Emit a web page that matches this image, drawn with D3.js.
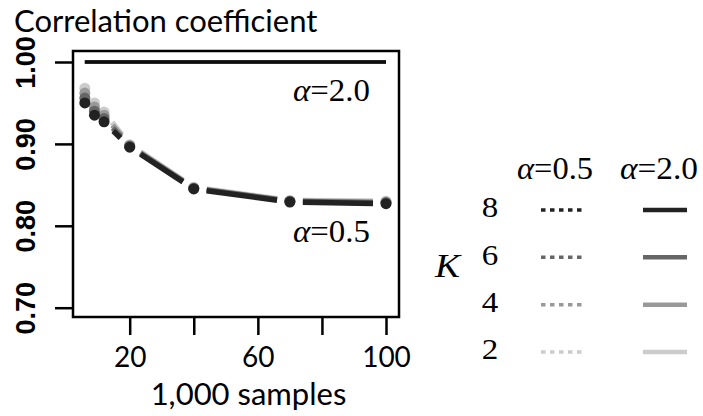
<!DOCTYPE html>
<html>
<head>
<meta charset="utf-8">
<script src="https://cdn.jsdelivr.net/npm/d3@7"></script>
<style>
  body { margin: 0; background: #fff; }
  svg { display: block; }
</style>
</head>
<body>
<svg id="chart" width="703" height="416"></svg>
<script>
// data
const samples = [6, 9, 12, 20, 40, 70, 100];
const kLevels = [2, 4, 6, 8];
const kColors = ["#cccccc", "#999999", "#666666", "#222222"];

const corrA05K2 = [0.968, 0.950, 0.939, 0.899, 0.847, 0.831, 0.830];
const corrA05K4 = [0.962, 0.945, 0.935, 0.898, 0.846, 0.830, 0.829];
const corrA05K6 = [0.956, 0.940, 0.931, 0.897, 0.846, 0.830, 0.828];
const corrA05K8 = [0.950, 0.935, 0.927, 0.896, 0.845, 0.829, 0.827];

const corrA20K2 = [1.000, 1.000, 1.000, 1.000, 1.000, 1.000, 1.000];
const corrA20K4 = [1.000, 1.000, 1.000, 1.000, 1.000, 1.000, 1.000];
const corrA20K6 = [1.000, 1.000, 1.000, 1.000, 1.000, 1.000, 1.000];
const corrA20K8 = [1.000, 1.000, 1.000, 1.000, 1.000, 1.000, 1.000];

const yTicks = [0.70, 0.80, 0.90, 1.00];
const yTickLabels = ["0.70", "0.80", "0.90", "1.00"];
const xTicks = [20, 40, 60, 80, 100];
const xTickLabels = ["20", "", "60", "", "100"];

const a05 = [corrA05K2, corrA05K4, corrA05K6, corrA05K8];
const a20 = [corrA20K2, corrA20K4, corrA20K6, corrA20K8];

const svg = d3.select("#chart");

// plot box
const box = { left: 73, right: 399, top: 51, bottom: 317 };

const x = d3.scaleLinear().domain([20, 100]).range([129.7, 386]);
const y = d3.scaleLinear().domain([0.70, 1.00]).range([307.7, 62]);

const defs = svg.append("defs");
defs.append("filter").attr("id", "soft")
  .append("feGaussianBlur").attr("stdDeviation", 0.7);

const sans = "Lato, 'Open Sans', sans-serif";
const serif = "'Liberation Serif', 'Times New Roman', serif";

// title
svg.append("text")
  .attr("x", 14).attr("y", 32)
  .style("font-family", sans)
  .style("font-size", "31px")
  .text("Correlation coefficient");

// box
svg.append("rect")
  .attr("x", box.left).attr("y", box.top)
  .attr("width", box.right - box.left).attr("height", box.bottom - box.top)
  .attr("fill", "none").attr("stroke", "#000").attr("stroke-width", 2.5);

// y axis
const yAxis = svg.append("g")
  .attr("transform", "translate(" + box.left + ",0)")
  .call(d3.axisLeft(y).tickValues(yTicks).tickSize(18).tickFormat((d, i) => yTickLabels[i]));
yAxis.select(".domain").remove();
yAxis.selectAll(".tick line").attr("stroke", "#000").attr("stroke-width", 2.5);
yAxis.selectAll(".tick text")
  .attr("x", null).attr("dy", null)
  .attr("transform", "translate(-38,0) rotate(-90)")
  .attr("text-anchor", "middle")
  .style("font-family", "'Liberation Sans', Arial, sans-serif")
  .style("font-weight", "bold")
  .style("font-size", "27px")
  .attr("fill", "#000");

// x axis
const xAxis = svg.append("g")
  .attr("transform", "translate(0," + box.bottom + ")")
  .call(d3.axisBottom(x).tickValues(xTicks).tickSize(18).tickFormat((d, i) => xTickLabels[i]));
xAxis.select(".domain").remove();
xAxis.selectAll(".tick line").attr("stroke", "#000").attr("stroke-width", 2.5);
xAxis.selectAll(".tick text")
  .attr("y", 50).attr("dy", null)
  .style("font-family", sans)
  .style("font-size", "28px")
  .attr("fill", "#000");

svg.append("text")
  .attr("x", (152 + 345) / 2).attr("y", 405)
  .attr("text-anchor", "middle")
  .style("font-family", sans)
  .style("font-size", "31px")
  .text("1,000 samples");

// data
const plot = svg.append("g").attr("filter", "url(#soft)");

// alpha = 2.0 : plain lines
const line = d3.line().x((d, i) => x(samples[i])).y(d => y(d));
a20.forEach((vals, k) => {
  plot.append("path")
    .attr("d", line(vals))
    .attr("fill", "none")
    .attr("stroke", k === 3 ? "#111" : kColors[k])
    .attr("stroke-width", 3.5);
});

// alpha = 0.5 : points + gapped segments (type "b")
const gap = 13;
a05.forEach((vals, k) => {
  const pts = vals.map((v, i) => [x(samples[i]), y(v)]);
  const segs = d3.pairs(pts).map(([p, q]) => {
    const dx = q[0] - p[0], dy = q[1] - p[1];
    const len = Math.hypot(dx, dy);
    if (len <= 2 * gap) return null;
    const ux = dx / len, uy = dy / len;
    return [p[0] + ux * gap, p[1] + uy * gap, q[0] - ux * gap, q[1] - uy * gap];
  }).filter(s => s);
  plot.selectAll(null).data(segs).enter().append("line")
    .attr("x1", d => d[0]).attr("y1", d => d[1])
    .attr("x2", d => d[2]).attr("y2", d => d[3])
    .attr("stroke", kColors[k]).attr("stroke-width", 5.5);
  plot.selectAll(null).data(vals).enter().append("circle")
    .attr("cx", (d, i) => x(samples[i]))
    .attr("cy", d => y(d))
    .attr("r", 5.5)
    .attr("fill", kColors[k]);
});

// alpha labels
function alphaLabel(g, tx, ty, txt, len) {
  g.append("text")
    .attr("x", tx).attr("y", ty)
    .attr("textLength", len).attr("lengthAdjust", "spacingAndGlyphs")
    .style("font-family", serif)
    .style("font-size", "31px")
    .html('<tspan font-style="italic">α</tspan>=' + txt);
}
alphaLabel(svg, 293, 101, "2.0", 77);
alphaLabel(svg, 293, 242, "0.5", 77);

// legend
const legend = svg.append("g");
alphaLabel(legend, 517, 179, "0.5", 76);
alphaLabel(legend, 620, 179, "2.0", 78);

const legY = d3.scalePoint().domain([8, 6, 4, 2]).range([210, 352]);

legend.append("text")
  .attr("x", 435).attr("y", 277)
  .attr("textLength", 25).attr("lengthAdjust", "spacingAndGlyphs")
  .style("font-family", serif)
  .style("font-style", "italic")
  .style("font-size", "34px")
  .text("K");

kLevels.forEach((kv, k) => {
  const yy = legY(kv);
  legend.append("text")
    .attr("x", 490).attr("y", yy + 7.5)
    .attr("text-anchor", "middle")
    .attr("transform", "translate(490,0) scale(1.1,1) translate(-490,0)")
    .style("font-family", serif)
    .style("font-size", "30px")
    .text(kv);
  legend.append("line")
    .attr("x1", 541).attr("x2", 583).attr("y1", yy).attr("y2", yy)
    .attr("stroke", kColors[k]).attr("stroke-width", 3.5)
    .attr("stroke-dasharray", "4.5 4.5");
  legend.append("line")
    .attr("x1", 643).attr("x2", 687).attr("y1", yy).attr("y2", yy)
    .attr("stroke", kColors[k]).attr("stroke-width", 4.5);
});
</script>
</body>
</html>
